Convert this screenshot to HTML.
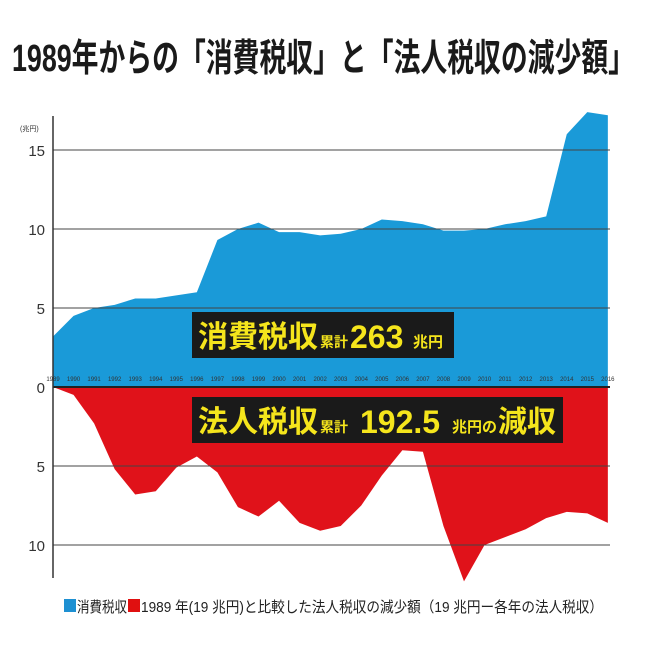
<!DOCTYPE html>
<html><head><meta charset="utf-8"><style>body{margin:0;background:#fff}svg{display:block}</style></head>
<body>
<svg width="649" height="649" viewBox="0 0 649 649" xmlns="http://www.w3.org/2000/svg" font-family="'Liberation Sans','Noto Sans CJK JP',sans-serif">
<text x="12" y="71" font-size="38" font-weight="bold" fill="#1a1a1a" textLength="623" lengthAdjust="spacingAndGlyphs">1989年からの「消費税収」と「法人税収の減少額」</text>
<g id="chart"></g>
<text x="20" y="131" font-size="7" fill="#333">(兆円)</text>
<g font-size="15" fill="#333" text-anchor="end">
<text x="45" y="156">15</text><text x="45" y="235">10</text><text x="45" y="314">5</text><text x="45" y="393">0</text>
<text x="45" y="472">5</text><text x="45" y="551">10</text></g>
<rect x="192" y="312" width="262" height="46" fill="#1a1a1a"/>
<text x="198" y="347" font-size="30" font-weight="bold" fill="#f5e51c" textLength="120" lengthAdjust="spacingAndGlyphs">消費税収</text>
<text x="320" y="347" font-size="14" font-weight="bold" fill="#f5e51c">累計</text>
<text x="350" y="348" font-size="32" font-weight="bold" fill="#f5e51c">263</text>
<text x="413" y="347" font-size="15" font-weight="bold" fill="#f5e51c">兆円</text>
<rect x="192" y="397" width="371" height="46" fill="#1a1a1a"/>
<text x="198" y="432" font-size="30" font-weight="bold" fill="#f5e51c" textLength="120" lengthAdjust="spacingAndGlyphs">法人税収</text>
<text x="320" y="432" font-size="14" font-weight="bold" fill="#f5e51c">累計</text>
<text x="360" y="433" font-size="32" font-weight="bold" fill="#f5e51c">192.5</text>
<text x="452" y="432" font-size="15" font-weight="bold" fill="#f5e51c">兆円の</text>
<text x="498" y="432" font-size="30" font-weight="bold" fill="#f5e51c" textLength="58" lengthAdjust="spacingAndGlyphs">減収</text>
<rect x="64" y="599" width="12" height="13" fill="#1e90d2"/>
<rect x="128" y="599" width="12" height="13" fill="#e01010"/>
<text x="77" y="612" font-size="15" fill="#222" textLength="50" lengthAdjust="spacingAndGlyphs">消費税収</text>
<text x="141" y="612" font-size="15" fill="#222" textLength="462" lengthAdjust="spacingAndGlyphs">1989 年(19 兆円)と比較した法人税収の減少額（19 兆円ー各年の法人税収）</text>
</svg>
<script>
const blue=[3.2,4.5,5.0,5.2,5.6,5.6,5.8,6.0,9.3,10.0,10.4,9.8,9.8,9.6,9.7,10.0,10.6,10.5,10.3,9.9,9.9,10.0,10.3,10.5,10.8,16.0,17.4,17.2];
const red=[0,0.5,2.3,5.2,6.8,6.6,5.1,4.4,5.4,7.6,8.2,7.2,8.6,9.1,8.8,7.5,5.6,4.0,4.1,8.8,12.3,10.0,9.5,9.0,8.3,7.9,8.0,8.6];
const X=i=>53+i*20.55, Z=387, U=15.8;
let s='';
let p='M53,'+Z;blue.forEach((v,i)=>p+=' L'+X(i)+','+(Z-v*U));p+=' L'+X(27)+','+Z+'Z';
s+=`<path d="${p}" fill="#1a9ad8"/>`;
p='M53,'+Z;red.forEach((v,i)=>p+=' L'+X(i)+','+(Z+v*U));p+=' L'+X(27)+','+Z+'Z';
s+=`<path d="${p}" fill="#e0121a"/>`;
[150,229,308,466,545].forEach(y=>s+=`<line x1="53" x2="610" y1="${y}" y2="${y}" stroke="#444" stroke-width="1"/>`);
s+=`<line x1="53" x2="610" y1="${Z}" y2="${Z}" stroke="#222" stroke-width="2"/>`;
s+=`<line x1="53" x2="53" y1="116" y2="578" stroke="#333" stroke-width="1.5"/>`;
for(let i=0;i<28;i++)s+=`<text x="${X(i)}" y="381" font-size="6" fill="#333" text-anchor="middle">${1989+i}</text>`;
document.getElementById('chart').outerHTML='<g>'+s+'</g>';
</script>
</body></html>
